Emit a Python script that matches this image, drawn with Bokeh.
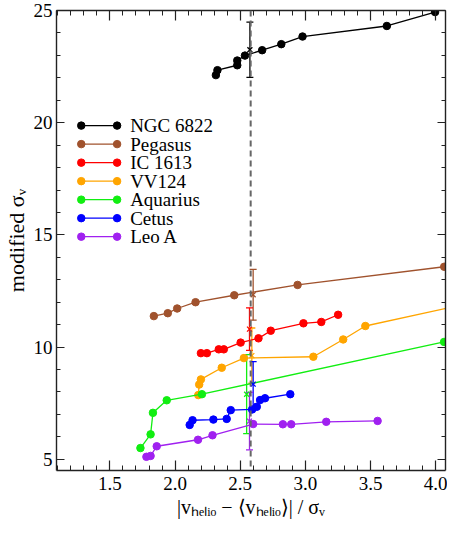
from bokeh.plotting import figure
from bokeh.models import (Range1d, LinearAxis, SingleIntervalTicker, Whisker, TeeHead,
                          ColumnDataSource, Span, PrintfTickFormatter, CustomLabelingPolicy)
from bokeh.core.properties import value
from bokeh.embed import file_html
from bokeh.resources import INLINE

# ---------------- data ----------------
galaxies = ["NGC 6822", "Pegasus", "IC 1613", "VV124", "Aquarius", "Cetus", "Leo A"]
colors = ["#000000", "#A0522D", "#FF0000", "#FFA500", "#11EE11", "#0000FF", "#A020F0"]

ngc6822_x = [2.313, 2.325, 2.477, 2.477, 2.536, 2.668, 2.815, 2.978, 3.625, 3.995]
ngc6822_y = [22.12, 22.34, 22.56, 22.77, 22.99, 23.23, 23.50, 23.84, 24.31, 24.93]

pegasus_x = [1.837, 1.944, 2.016, 2.157, 2.454, 2.940, 4.065]
pegasus_y = [11.38, 11.51, 11.72, 12.00, 12.31, 12.77, 13.58]

ic1613_x = [2.198, 2.244, 2.335, 2.374, 2.503, 2.640, 2.734, 2.985, 3.122, 3.251]
ic1613_y = [9.73, 9.73, 9.90, 9.90, 10.20, 10.39, 10.73, 11.06, 11.12, 11.44]

vv124_x = [2.178, 2.185, 2.198, 2.358, 2.528, 3.061, 3.290, 3.460, 4.450]
vv124_y = [7.86, 8.33, 8.56, 9.08, 9.51, 9.57, 10.34, 10.94, 12.20]

aquarius_x = [1.734, 1.812, 1.830, 1.936, 2.206, 4.064]
aquarius_y = [5.50, 6.11, 7.07, 7.63, 7.90, 10.23]

cetus_x = [2.112, 2.134, 2.294, 2.396, 2.427, 2.591, 2.627, 2.652, 2.690, 2.884]
cetus_y = [6.53, 6.74, 6.77, 6.80, 7.19, 7.22, 7.34, 7.64, 7.72, 7.90]

leoa_x = [1.780, 1.812, 1.859, 2.176, 2.287, 2.599, 2.827, 2.891, 3.160, 3.554]
leoa_y = [5.11, 5.15, 5.58, 5.87, 6.07, 6.57, 6.56, 6.56, 6.67, 6.71]

# modified sigma point with its uncertainty (one per galaxy)
err_x = [2.574, 2.599, 2.571, 2.589, 2.549, 2.599, 2.571]
err_y = [23.25, 12.33, 10.80, 9.62, 7.90, 8.35, 6.70]
err_h = [1.23, 1.13, 0.95, 1.23, 1.76, 1.00, 1.28]

cut_value = 2.58

series_x = [ngc6822_x, pegasus_x, ic1613_x, vv124_x, aquarius_x, cetus_x, leoa_x]
series_y = [ngc6822_y, pegasus_y, ic1613_y, vv124_y, aquarius_y, cetus_y, leoa_y]

x_tick_step = 0.5
y_tick_step = 5
y_title = "modified \u03c3\u1d65"
x_title = "|v\u2095\u2091\u2097\u1d62\u2092 \u2212 \u27e8v\u2095\u2091\u2097\u1d62\u2092\u27e9| / \u03c3\u1d65"

# ---------------- layout constants ----------------
X0, X1 = 1.09, 4.075
Y0, Y1 = 4.5, 25.0
W, H = 447, 524
FL, FR, FT, FB = 53, 445, 10, 470   # frame edges (canvas pixels)
SERIF = "Liberation Serif"

# legend placement (data units)
leg_x0, leg_x1, leg_tx = 1.28, 1.555, 1.655
leg_top, leg_step = 19.87, 0.825

p = figure(width=W, height=H, output_backend="svg", toolbar_location=None,
           x_range=Range1d(X0, X1), y_range=Range1d(Y0, Y1),
           x_axis_location=None, y_axis_location=None,
           min_border_left=FL, min_border_right=W - FR,
           min_border_top=FT, min_border_bottom=H - FB)
p.xgrid.visible = False
p.ygrid.visible = False
p.outline_line_color = None

no_labels = CustomLabelingPolicy(
    code="const all = [...indices]; for (const i of all) { indices.unset(i) } return indices")


def style_axis(ax, show_labels, major_in, minor_in):
    ax.axis_line_color = "#222222"
    ax.axis_line_width = 1.4
    ax.major_tick_line_color = "#222222"
    ax.minor_tick_line_color = "#222222"
    ax.major_tick_line_width = 1.2
    ax.minor_tick_line_width = 1.0
    ax.major_tick_in = major_in
    ax.major_tick_out = 0
    ax.minor_tick_in = minor_in
    ax.minor_tick_out = 0
    ax.axis_label = None
    ax.major_label_text_font = SERIF
    ax.major_label_text_color = "black"
    ax.axis_label_text_font = SERIF
    ax.axis_label_text_font_style = "normal"
    ax.axis_label_text_color = "black"
    if show_labels:
        ax.major_label_text_font_size = "19px"
    else:
        ax.major_label_text_font_size = "0px"
        ax.major_label_policy = no_labels
        ax.major_label_standoff = 0


for loc in ["below", "above"]:
    ax = LinearAxis(ticker=SingleIntervalTicker(interval=x_tick_step, num_minor_ticks=5),
                    formatter=PrintfTickFormatter(format="%.1f"))
    style_axis(ax, loc == "below", 10, 5)
    if loc == "below":
        ax.major_label_standoff = 6
        ax.axis_label = x_title
        ax.axis_label_text_font_size = "20px"
        ax.axis_label_standoff = 3
    p.add_layout(ax, loc)

for loc in ["left", "right"]:
    ax = LinearAxis(ticker=SingleIntervalTicker(interval=y_tick_step, num_minor_ticks=5))
    style_axis(ax, loc == "left", 8, 4)
    if loc == "left":
        ax.major_label_standoff = 4
        ax.axis_label = y_title
        ax.axis_label_text_font_size = "22px"
        ax.axis_label_standoff = 2
    p.add_layout(ax, loc)

# ---------------- data marks ----------------
for xs, ys, c in zip(series_x, series_y, colors):
    src = ColumnDataSource(dict(x=xs, y=ys))
    p.line("x", "y", source=src, line_color=c, line_width=1.3)
    p.scatter("x", "y", source=src, marker="circle", size=7.5, fill_color=c, line_color=c)

p.add_layout(Span(location=cut_value, dimension="height", line_color="#666666",
                  line_width=2, line_dash="6 4"))

for bx, by, bh, c in zip(err_x, err_y, err_h, colors):
    s = ColumnDataSource(dict(base=[bx], upper=[by + bh], lower=[by - bh]))
    p.add_layout(Whisker(source=s, base="base", upper="upper", lower="lower",
                         dimension="height", line_color=c, line_width=1.3,
                         upper_head=TeeHead(size=7, line_color=c, line_width=1.3),
                         lower_head=TeeHead(size=7, line_color=c, line_width=1.3)))
p.scatter(err_x, err_y, marker="x", size=7, line_color=colors, line_width=1.3)

# ---------------- legend (drawn by hand: markers at both ends) ----------------
for i, (name, c) in enumerate(zip(galaxies, colors)):
    ry = leg_top - i * leg_step
    p.line([leg_x0, leg_x1], [ry, ry], line_color=c, line_width=1.3)
    p.scatter([leg_x0, leg_x1], [ry, ry], marker="circle", size=7.5, fill_color=c, line_color=c)
    p.text([leg_tx], [ry], text=[name], text_font=value(SERIF), text_font_size="19px",
           text_baseline="middle", text_align="left", text_color="black")

open("out.html", "w").write(file_html(p, INLINE))
